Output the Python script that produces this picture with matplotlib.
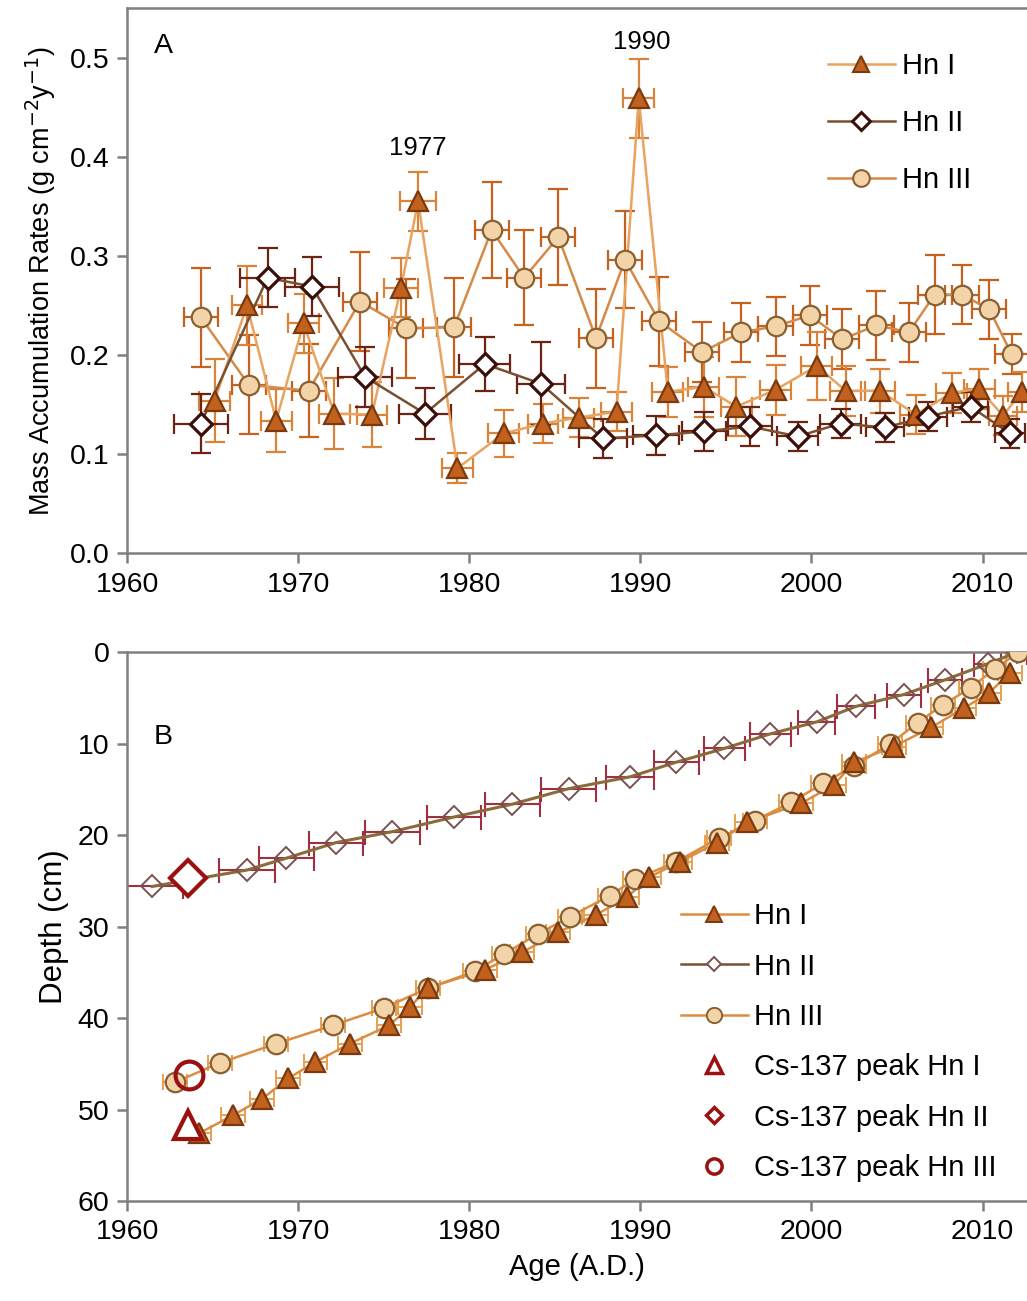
import matplotlib
matplotlib.use("Agg")
from matplotlib import pyplot as plt
from matplotlib.lines import Line2D

plt.rcParams['font.family'] = ['Liberation Sans', 'DejaVu Sans']

# ---------------- panel A: mass accumulation rates ----------------
a_hn1_age = [1965.1, 1967.0, 1968.7, 1970.3, 1972.1, 1974.3, 1976.0, 1977.0, 1979.3, 1982.0, 1984.3, 1986.4, 1988.6,
             1989.9, 1991.6, 1993.7, 1995.6, 1997.9, 2000.3, 2002.0, 2004.0, 2006.1, 2008.2, 2009.8, 2011.2, 2012.3]
a_hn1_mar = [0.154, 0.250, 0.134, 0.232, 0.141, 0.140, 0.268, 0.355, 0.086, 0.121, 0.131, 0.137, 0.143,
             0.459, 0.163, 0.168, 0.148, 0.165, 0.189, 0.164, 0.164, 0.140, 0.162, 0.166, 0.139, 0.163]
a_hn1_yerr = [0.042, 0.040, 0.032, 0.030, 0.036, 0.033, 0.030, 0.030, 0.015, 0.024, 0.020, 0.020, 0.020,
              0.040, 0.025, 0.030, 0.030, 0.025, 0.034, 0.025, 0.022, 0.020, 0.020, 0.020, 0.020, 0.020]
a_hn1_xerr = [0.9, 0.9, 0.9, 0.9, 0.9, 0.9, 1.0, 1.05, 0.9, 0.9, 0.9, 0.9, 0.9,
              0.9, 0.9, 0.9, 0.9, 0.9, 0.9, 0.9, 0.9, 0.9, 0.9, 0.9, 0.8, 0.8]

a_hn2_age = [1964.3, 1968.2, 1970.8, 1973.9, 1977.4, 1980.9, 1984.2, 1987.8, 1990.9, 1993.7, 1996.4, 1999.2,
             2001.7, 2004.3, 2006.8, 2009.3, 2011.6]
a_hn2_mar = [0.131, 0.278, 0.269, 0.178, 0.141, 0.191, 0.171, 0.116, 0.119, 0.123, 0.128, 0.118,
             0.131, 0.127, 0.138, 0.148, 0.121]
a_hn2_yerr = [0.030, 0.030, 0.030, 0.030, 0.026, 0.027, 0.042, 0.020, 0.020, 0.020, 0.020, 0.015,
              0.015, 0.015, 0.015, 0.015, 0.015]
a_hn2_xerr = [1.6, 1.6, 1.6, 1.6, 1.5, 1.5, 1.4, 1.4, 1.35, 1.3, 1.3, 1.2, 1.2, 1.1, 1.1, 1.0, 0.9]

a_hn3_age = [1964.3, 1967.1, 1970.6, 1973.6, 1976.3, 1979.1, 1981.3, 1983.2, 1985.2, 1987.4, 1989.1, 1991.1,
             1993.6, 1995.9, 1997.9, 1999.9, 2001.8, 2003.8, 2005.7, 2007.2, 2008.8, 2010.4, 2011.7]
a_hn3_mar = [0.238, 0.170, 0.164, 0.254, 0.227, 0.228, 0.326, 0.278, 0.319, 0.217, 0.296, 0.234,
             0.203, 0.223, 0.229, 0.240, 0.216, 0.230, 0.223, 0.261, 0.261, 0.246, 0.201]
a_hn3_yerr = [0.050, 0.050, 0.047, 0.050, 0.050, 0.050, 0.048, 0.048, 0.048, 0.050, 0.049, 0.045,
              0.030, 0.030, 0.030, 0.030, 0.030, 0.035, 0.030, 0.040, 0.030, 0.030, 0.020]
a_hn3_xerr = [1.0] * 23

# ---------------- panel B: age-depth ----------------
b_hn1_age = [1964.2, 1966.2, 1967.9, 1969.4, 1971.0, 1973.0, 1975.3, 1976.5, 1977.6, 1980.9, 1983.1, 1985.2,
             1987.4, 1989.2, 1990.5, 1992.3, 1994.5, 1996.2, 1999.4, 2001.3, 2002.5, 2004.8, 2007.0, 2008.9,
             2010.4, 2011.6]
b_hn1_depth = [52.6, 50.6, 48.8, 46.6, 44.8, 42.8, 40.8, 38.8, 36.7, 34.7, 32.8, 30.6,
               28.7, 26.8, 24.6, 22.9, 20.8, 18.6, 16.5, 14.5, 12.0, 10.3, 8.2, 6.1, 4.4, 2.2]

b_hn2_age = [1961.45, 1967.0, 1969.3, 1972.2, 1975.5, 1979.1, 1982.5, 1985.8, 1989.4, 1992.1, 1994.9, 1997.6,
             2000.3, 2002.6, 2005.4, 2007.8, 2010.3, 2012.0]
b_hn2_depth = [25.6, 23.8, 22.5, 20.8, 19.6, 18.0, 16.6, 14.9, 13.6, 12.0, 10.5, 8.9,
               7.6, 5.9, 4.6, 3.0, 1.25, 0.0]
b_hn2_xerr = [1.8, 1.65, 1.6, 1.6, 1.6, 1.6, 1.6, 1.6, 1.4, 1.3, 1.2, 1.2, 1.1, 1.1, 1.0, 1.0, 0.8, 0.6]

b_hn3_age = [1962.8, 1965.4, 1968.7, 1972.0, 1975.0, 1977.6, 1980.3, 1982.0, 1984.0, 1985.9, 1988.2, 1989.7,
             1992.1, 1994.6, 1996.7, 1998.8, 2000.7, 2002.5, 2004.6, 2006.2, 2007.7, 2009.3, 2010.7, 2012.1]
b_hn3_depth = [47.0, 44.9, 42.8, 40.8, 38.9, 36.7, 34.9, 33.0, 30.8, 28.9, 26.6, 24.8,
               22.9, 20.3, 18.4, 16.4, 14.3, 12.4, 10.0, 7.7, 5.7, 3.9, 1.8, 0.0]

# Cs-137 peaks (age, depth)
cs_hn1 = (1963.55, 51.7)
cs_hn2 = (1963.55, 24.7)
cs_hn3 = (1963.6, 46.2)

# colours
hn1_fill, hn1_edge, hn1_line, hn1_err = "#C2601E", "#7A3A10", "#E8A460", "#D9843A"
hn2_fill, hn2_edge, hn2_line, hn2_err = "white", "#3B0F0A", "#7A5030", "#6B2414"
hn3_fill, hn3_edge, hn3_line, hn3_err = "#F3D4A8", "#8B6030", "#D68A48", "#C4621E"
cs_col = "#9B1010"
axis_col = "#808080"

FS = 20.5


def style_axes(ax):
    for s in ax.spines.values():
        s.set_color(axis_col)
        s.set_linewidth(1.8)
    ax.tick_params(direction="out", length=7, width=1.8, color=axis_col, labelsize=FS, pad=6)


def draw_series(ax, x, y, xerr, yerr, line, fill, edge, err, marker, ms, cap, mew=1.6):
    ax.errorbar(x, y, xerr=xerr, yerr=yerr, fmt="none", ecolor=err, elinewidth=1.6, capsize=cap,
                capthick=1.6, zorder=2)
    ax.plot(x, y, color=line, lw=1.8, zorder=3)
    ax.plot(x, y, ls="none", marker=marker, ms=ms, mfc=fill, mec=edge, mew=mew, zorder=4)


fig = plt.figure(figsize=(10.27, 13.01), dpi=100)
axA = fig.add_axes([0.124, 0.5746, 0.876, 0.4193])
axB = fig.add_axes([0.124, 0.0769, 0.876, 0.4216])

# ---- A ----
draw_series(axA, a_hn3_age, a_hn3_mar, a_hn3_xerr, a_hn3_yerr, hn3_line, hn3_fill, hn3_edge, hn3_err, "o", 14, 7)
draw_series(axA, a_hn1_age, a_hn1_mar, a_hn1_xerr, a_hn1_yerr, hn1_line, hn1_fill, hn1_edge, hn1_err, "^", 14, 7)
draw_series(axA, a_hn2_age, a_hn2_mar, a_hn2_xerr, a_hn2_yerr, hn2_line, hn2_fill, hn2_edge, hn2_err, "D", 11, 7,
            mew=2.3)
axA.set_xlim(1960, 2012.6)
axA.set_ylim(0, 0.55)
axA.set_xticks([1960, 1970, 1980, 1990, 2000, 2010])
axA.set_yticks([0.0, 0.1, 0.2, 0.3, 0.4, 0.5])
axA.set_yticklabels(["0.0", "0.1", "0.2", "0.3", "0.4", "0.5"])
axA.spines["right"].set_visible(False)
axA.set_ylabel("Mass Accumulation Rates (g cm$^{-2}$y$^{-1}$)", fontsize=19.5, labelpad=8)
axA.text(1962.1, 0.512, "A", fontsize=FS, ha="center", va="center")
axA.text(1977.0, 0.409, "1977", fontsize=18.5, ha="center", va="center")
axA.text(1990.05, 0.516, "1990", fontsize=18.5, ha="center", va="center")
style_axes(axA)

legA = [Line2D([], [], color=hn1_line, lw=1.8, marker="^", ms=12, mfc=hn1_fill, mec=hn1_edge, mew=1.5),
        Line2D([], [], color=hn2_line, lw=1.8, marker="D", ms=9, mfc=hn2_fill, mec=hn2_edge, mew=2.2),
        Line2D([], [], color=hn3_line, lw=1.8, marker="o", ms=12, mfc=hn3_fill, mec=hn3_edge, mew=1.5)]
fig.legend(legA, ["Hn I", "Hn II", "Hn III"], loc="upper left", bbox_to_anchor=(0.806, 0.960),
           frameon=False, fontsize=21, handlelength=2.3, handletextpad=0.25, labelspacing=1.0,
           borderpad=0, borderaxespad=0)

# ---- B ----
axB.errorbar(b_hn2_age, b_hn2_depth, xerr=b_hn2_xerr, fmt="none", ecolor="#A03040", elinewidth=1.5,
             capsize=9, capthick=1.5, zorder=2)
axB.plot(b_hn2_age, b_hn2_depth, color="#8B6B3A", lw=2.2, zorder=3)
axB.plot(b_hn2_age, b_hn2_depth, ls="none", marker="D", ms=11, mfc="none", mec="#7A5050", mew=1.4, zorder=4)

for ages, depths, fill, edge, marker in [(b_hn3_age, b_hn3_depth, hn3_fill, hn3_edge, "o"),
                                         (b_hn1_age, b_hn1_depth, hn1_fill, hn1_edge, "^")]:
    axB.errorbar(ages, depths, xerr=0.7, fmt="none", ecolor="#E8A050", elinewidth=1.4, capsize=6,
                 capthick=1.4, zorder=2)
    axB.plot(ages, depths, color="#DE8C40", lw=1.8, zorder=3)
    axB.plot(ages, depths, ls="none", marker=marker, ms=14, mfc=fill, mec=edge, mew=1.6, zorder=4)

axB.plot(*cs_hn1, ls="none", marker="^", ms=20, mfc="white", mec=cs_col, mew=3, zorder=5)
axB.plot(*cs_hn2, ls="none", marker="D", ms=18, mfc="white", mec=cs_col, mew=3, zorder=5)
axB.plot(*cs_hn3, ls="none", marker="o", ms=20, mfc="none", mec=cs_col, mew=3, zorder=5)

axB.set_xlim(1960, 2012.6)
axB.set_ylim(60, 0)
axB.set_xticks([1960, 1970, 1980, 1990, 2000, 2010])
axB.set_yticks([0, 10, 20, 30, 40, 50, 60])
axB.spines["right"].set_visible(False)
axB.set_ylabel("Depth (cm)", fontsize=22.5, labelpad=6)
axB.set_xlabel("Age (A.D.)", fontsize=21, labelpad=6)
axB.text(1962.1, 9.3, "B", fontsize=FS, ha="center", va="center")
style_axes(axB)

legB = [Line2D([], [], color="#DE8C40", lw=1.8, marker="^", ms=11, mfc=hn1_fill, mec=hn1_edge, mew=1.4),
        Line2D([], [], color="#7A5030", lw=1.8, marker="D", ms=7, mfc="white", mec="#7A5050", mew=1.4),
        Line2D([], [], color="#DE8C40", lw=1.8, marker="o", ms=11, mfc=hn3_fill, mec=hn3_edge, mew=1.4),
        Line2D([], [], ls="none", marker="^", ms=11, mfc="white", mec=cs_col, mew=2.5),
        Line2D([], [], ls="none", marker="D", ms=8, mfc="white", mec=cs_col, mew=2.5),
        Line2D([], [], ls="none", marker="o", ms=11, mfc="white", mec=cs_col, mew=2.5)]
fig.legend(legB, ["Hn I", "Hn II", "Hn III", "Cs-137 peak Hn I", "Cs-137 peak Hn II", "Cs-137 peak Hn III"],
           loc="upper left", bbox_to_anchor=(0.663, 0.3064), frameon=False, fontsize=21,
           handlelength=2.3, handletextpad=0.22, labelspacing=0.765, borderpad=0, borderaxespad=0)

plt.savefig("out.png", dpi=100)
